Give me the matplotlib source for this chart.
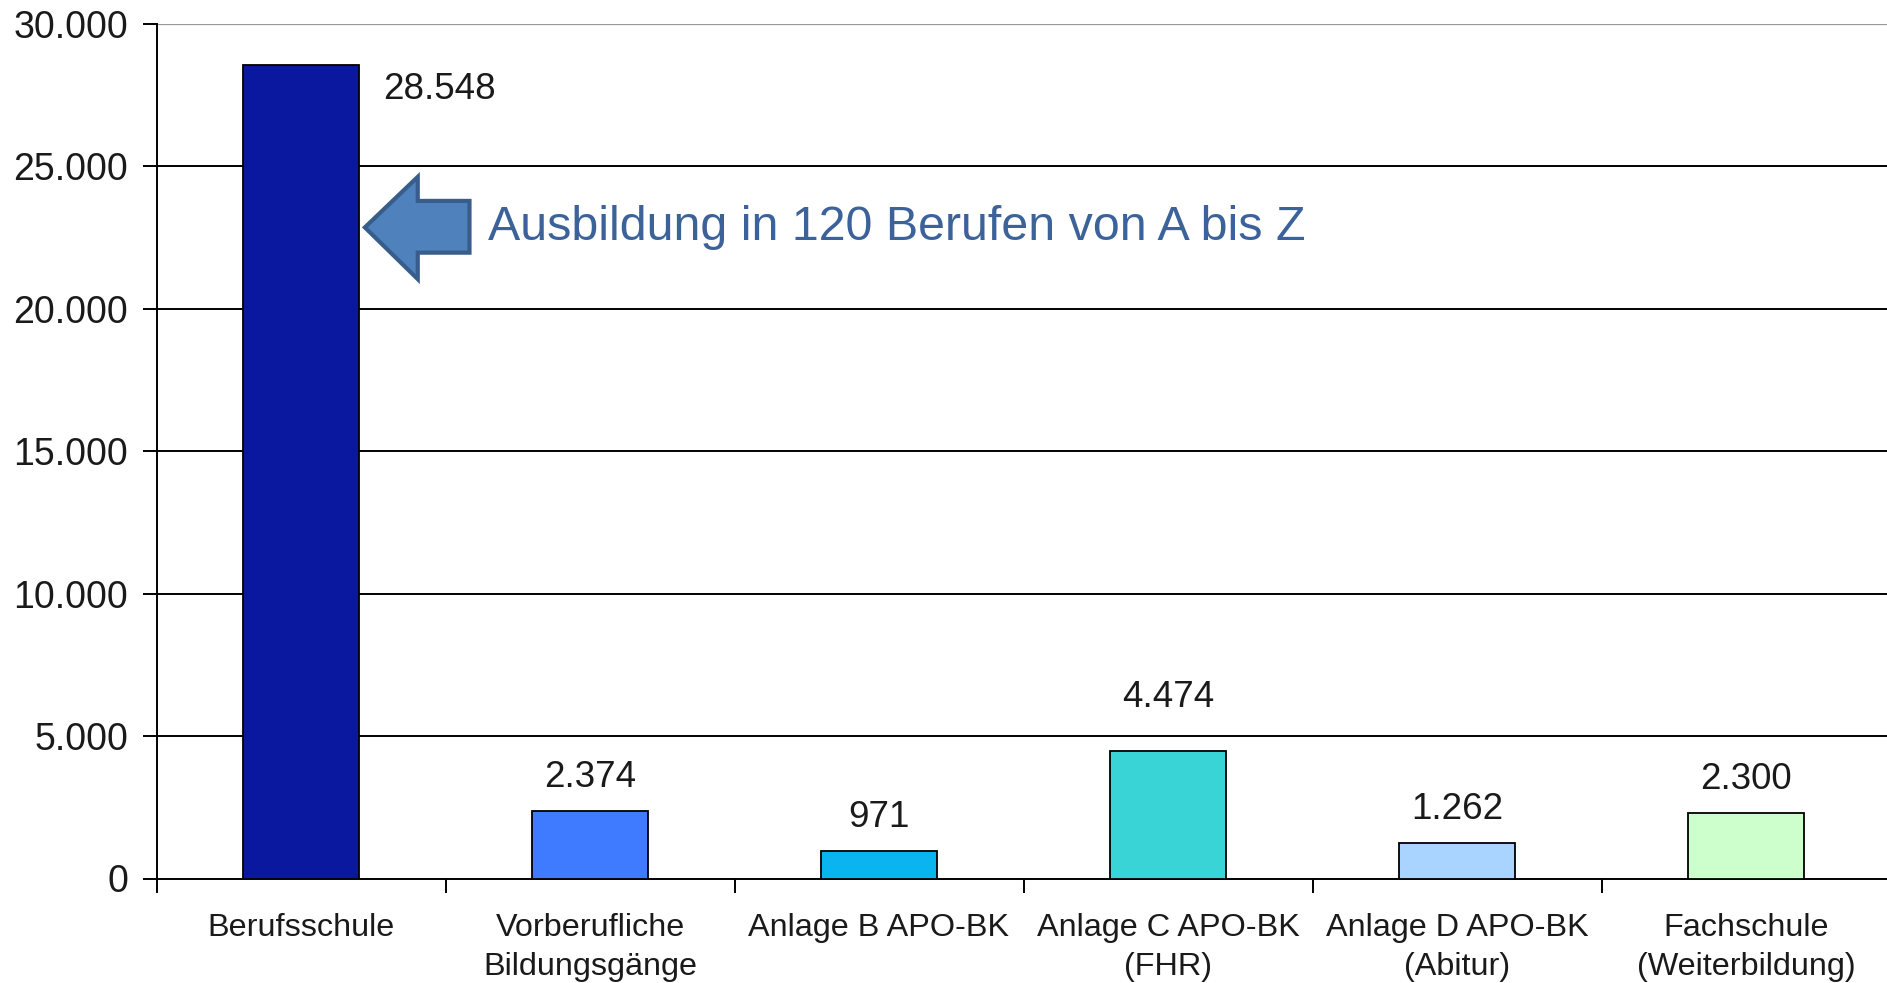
import matplotlib
matplotlib.use("Agg")
import matplotlib.pyplot as plt
from matplotlib.patches import Polygon
from matplotlib.ticker import FixedLocator, NullFormatter, FixedFormatter

plt.rcParams['font.family'] = ['Liberation Sans', 'DejaVu Sans']

categories = ["Berufsschule", "Vorberufliche\nBildungsgänge", "Anlage B APO-BK",
              "Anlage C APO-BK\n(FHR)", "Anlage D APO-BK\n(Abitur)", "Fachschule\n(Weiterbildung)"]
values = [28548, 2374, 971, 4474, 1262, 2300]
value_labels = ["28.548", "2.374", "971", "4.474", "1.262", "2.300"]
y_ticks = [0, 5000, 10000, 15000, 20000, 25000, 30000]
y_tick_labels = ["0", "5.000", "10.000", "15.000", "20.000", "25.000", "30.000"]
bar_colors = ["#0A18A0", "#3F7BFF", "#0AB4EE", "#38D4D6", "#A8D4FF", "#CCFFCC"]
annotation_text = "Ausbildung in 120 Berufen von A bis Z"

W, H = 1887, 983
fig = plt.figure(figsize=(W / 100, H / 100), dpi=100)
left = 156.5 / W
bottom = (H - 878.5) / H
top = (H - 24) / H
ax = fig.add_axes([left, bottom, 1734 / W, top - bottom])

x = list(range(len(categories)))
bars = ax.bar(x, values, width=0.4, color=bar_colors, edgecolor="black", linewidth=1.3, zorder=3)

ax.set_xlim(-0.5, len(categories) - 0.5)
ax.set_ylim(0, 30000)

# gridlines
for t in y_ticks[1:-1]:
    ax.axhline(t, color="black", linewidth=1.4, zorder=1)
ax.axhline(y_ticks[-1], color="#999999", linewidth=1.6, zorder=1)

for s in ["top", "right"]:
    ax.spines[s].set_visible(False)
ax.spines["left"].set_linewidth(1.4)
ax.spines["bottom"].set_linewidth(1.4)

ax.set_yticks(y_ticks)
ax.set_yticklabels(y_tick_labels)
ax.tick_params(axis="y", length=10, width=1.4, pad=10.5, labelsize=27, labelcolor="#1a1a1a")

# x ticks at category boundaries, labels centered
ax.xaxis.set_major_locator(FixedLocator([i - 0.5 for i in range(len(categories) + 1)]))
ax.xaxis.set_major_formatter(NullFormatter())
ax.xaxis.set_minor_locator(FixedLocator(x))
ax.xaxis.set_minor_formatter(FixedFormatter(categories))
ax.tick_params(axis="x", which="major", length=10, width=1.4, direction="out")
ax.tick_params(axis="x", which="minor", length=0, pad=24.5, labelsize=23.3, labelcolor="#1a1a1a")
for lbl in ax.xaxis.get_minorticklabels():
    lbl.set_linespacing(1.42)

# value labels
label_offsets_px = [None, 24, 24, 44, 24, 24]
for i, (v, lab) in enumerate(zip(values, value_labels)):
    if i == 0:
        ax.annotate(lab, xy=(i + 0.2, v), xytext=(24 * 0.72, -7 * 0.72), textcoords="offset points",
                    ha="left", va="top", fontsize=26.5, color="#1a1a1a")
    else:
        ax.annotate(lab, xy=(i, v), xytext=(0, label_offsets_px[i] * 0.72), textcoords="offset points",
                    ha="center", va="baseline", fontsize=26.5, color="#1a1a1a")

# arrow annotation pointing to first bar
tip_x, head_x, body_x = 0.221, 0.404, 0.583
y_mid, y_head_top, y_head_bot, y_body_top, y_body_bot = 22859, 24634, 21042, 23789, 21972
arrow = Polygon([(tip_x, y_mid), (head_x, y_head_top), (head_x, y_body_top), (body_x, y_body_top),
                 (body_x, y_body_bot), (head_x, y_body_bot), (head_x, y_head_bot)],
                closed=True, facecolor="#4F81BD", edgecolor="#385D8A", linewidth=3, zorder=5)
ax.add_patch(arrow)
ax.text(0.646, y_mid, annotation_text, ha="left", va="center", fontsize=34.8, color="#3C629A", zorder=5)

fig.savefig("out.png", dpi=100, facecolor="white")
